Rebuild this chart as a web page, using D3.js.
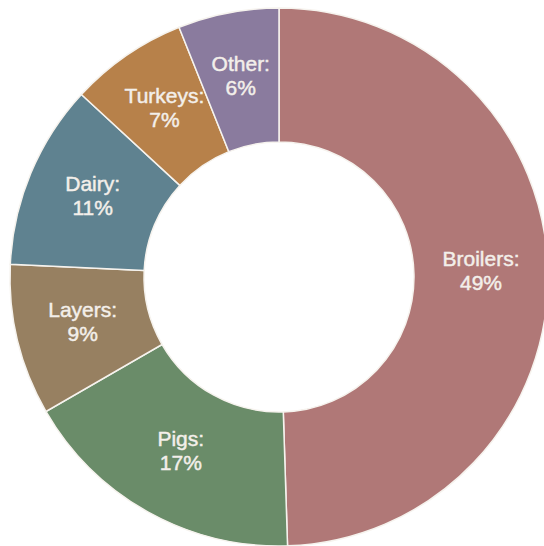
<!DOCTYPE html>
<html>
<head>
<meta charset="utf-8">
<script src="https://cdn.jsdelivr.net/npm/d3@7"></script>
<style>
  html, body { margin: 0; padding: 0; background: #ffffff; }
  svg { display: block; }
  .slice-label {
    font-family: "Liberation Sans", Arial, sans-serif;
    fill: #f3efea;
    stroke: #f3efea;
    stroke-width: 0.45px;
  }
</style>
</head>
<body>
<svg id="chart" width="544" height="546"></svg>
<script>
// Share of production by category (percent)
const categories = ["Broilers", "Pigs", "Layers", "Dairy", "Turkeys", "Other"];
const shares = [49, 17, 9, 11, 7, 6];
const colors = ["#b07877", "#6a8c69", "#978061", "#5f8290", "#b7814a", "#8a7b9e"];

const cx = 279, cy = 277;
const outerR = 269, innerR = 135;

const svg = d3.select("#chart");
const g = svg.append("g").attr("transform", `translate(${cx},${cy})`);

const data = categories.map((c, i) => ({ name: c, value: shares[i], color: colors[i] }));

const pie = d3.pie().value(d => d.value).sort(null);
const arc = d3.arc().innerRadius(innerR).outerRadius(outerR);

const arcs = pie(data);

// Ring segments
g.selectAll("path.slice")
  .data(arcs)
  .join("path")
  .attr("class", "slice")
  .attr("d", arc)
  .attr("fill", d => d.data.color)
  .attr("stroke", "#f6f3ee")
  .attr("stroke-width", 1.5);

// Two-line labels at each segment's centroid
const labels = g.selectAll("text.slice-label")
  .data(arcs)
  .join("text")
  .attr("class", "slice-label")
  .attr("text-anchor", "middle")
  .attr("font-size", 21)
  .attr("transform", d => `translate(${arc.centroid(d)})`);

labels.append("tspan")
  .attr("x", 0)
  .attr("y", -8)
  .text(d => d.data.name + ":");

labels.append("tspan")
  .attr("x", 0)
  .attr("y", 16)
  .text(d => d.data.value + "%");
</script>
</body>
</html>
